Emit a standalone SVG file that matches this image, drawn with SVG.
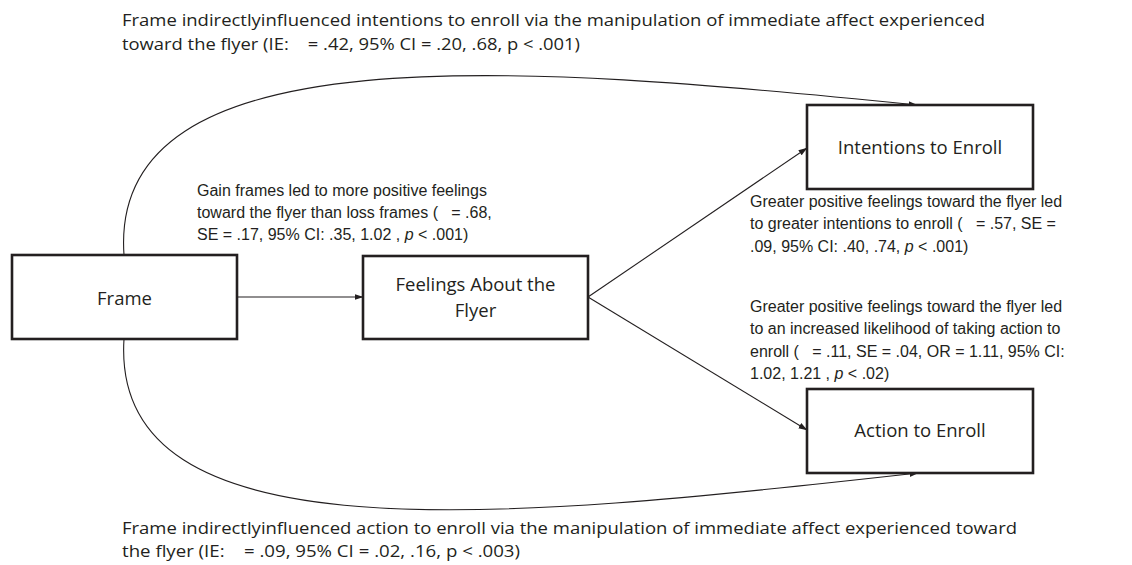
<svg xmlns="http://www.w3.org/2000/svg" width="1132" height="565" viewBox="0 0 1132 565">
<defs>
<marker id="ah" markerWidth="9" markerHeight="7" refX="8.5" refY="3.5" orient="auto" markerUnits="userSpaceOnUse">
<path d="M0,0.5 L9,3.5 L0,6.5 Z" fill="#231f20"/>
</marker>
</defs>
<style>
.box{fill:#fff;stroke:#231f20;stroke-width:2.6}
.edge{fill:none;stroke:#231f20;stroke-width:1.1}
.lbl{font-family:"Open Sans","Liberation Sans",sans-serif;font-size:18.5px;fill:#231f20;text-anchor:middle}
.cal{font-family:"Open Sans","Liberation Sans",sans-serif;font-size:17px;fill:#231f20;white-space:pre}
.ar{font-family:"Liberation Sans",Arial,sans-serif;font-size:16px;fill:#231f20;white-space:pre}
</style>
<rect width="1132" height="565" fill="#fff"/>
<g id="connectors">
<path class="edge" d="M237,297 L363,297" marker-end="url(#ah)"/>
<path class="edge" d="M588,297 L807,148" marker-end="url(#ah)"/>
<path class="edge" d="M588,297 L807,430" marker-end="url(#ah)"/>
<path class="edge" d="M124,255 C108,30 520,65 917,105" marker-end="url(#ah)"/>
<path class="edge" d="M124,339 C110,560 500,520 918,473" marker-end="url(#ah)"/>
</g>
<g id="node-frame">
<rect class="box" x="12" y="255" width="225" height="84"/>
<text class="lbl" x="124.5" y="305">Frame</text>
</g>
<g id="node-feelings">
<rect class="box" x="363" y="256" width="225" height="83"/>
<text class="lbl" x="475.5" y="291">Feelings About the</text>
<text class="lbl" x="475.5" y="317">Flyer</text>
</g>
<g id="node-intentions">
<rect class="box" x="807" y="105" width="226" height="84"/>
<text class="lbl" x="920" y="154">Intentions to Enroll</text>
</g>
<g id="node-action">
<rect class="box" x="807" y="389" width="226" height="84"/>
<text class="lbl" x="920" y="437">Action to Enroll</text>
</g>
<g id="labels">
<text class="cal" x="122" y="26" textLength="863" lengthAdjust="spacingAndGlyphs">Frame indirectlyinfluenced intentions to enroll via the manipulation of immediate affect experienced</text>
<text class="cal" x="122" y="50" textLength="458" lengthAdjust="spacingAndGlyphs">toward the flyer (IE:    = .42, 95% CI = .20, .68, p &lt; .001)</text>
<text class="ar" x="197" y="196">Gain frames led to more positive feelings</text>
<text class="ar" x="197" y="218">toward the flyer than loss frames (   = .68,</text>
<text class="ar" x="197" y="240">SE = .17, 95% CI: .35, 1.02 , <tspan font-style="italic">p</tspan> &lt; .001)</text>
<text class="ar" x="750" y="207">Greater positive feelings toward the flyer led</text>
<text class="ar" x="750" y="229">to greater intentions to enroll (   = .57, SE =</text>
<text class="ar" x="750" y="252">.09, 95% CI: .40, .74, <tspan font-style="italic">p</tspan> &lt; .001)</text>
<text class="ar" x="750" y="312">Greater positive feelings toward the flyer led</text>
<text class="ar" x="750" y="334">to an increased likelihood of taking action to</text>
<text class="ar" x="750" y="357">enroll (   = .11, SE = .04, OR = 1.11, 95% CI:</text>
<text class="ar" x="750" y="379">1.02, 1.21 , <tspan font-style="italic">p</tspan> &lt; .02)</text>
<text class="cal" x="122" y="534" textLength="895" lengthAdjust="spacingAndGlyphs">Frame indirectlyinfluenced action to enroll via the manipulation of immediate affect experienced toward</text>
<text class="cal" x="122" y="557" textLength="398" lengthAdjust="spacingAndGlyphs">the flyer (IE:    = .09, 95% CI = .02, .16, p &lt; .003)</text>
</g>
</svg>
